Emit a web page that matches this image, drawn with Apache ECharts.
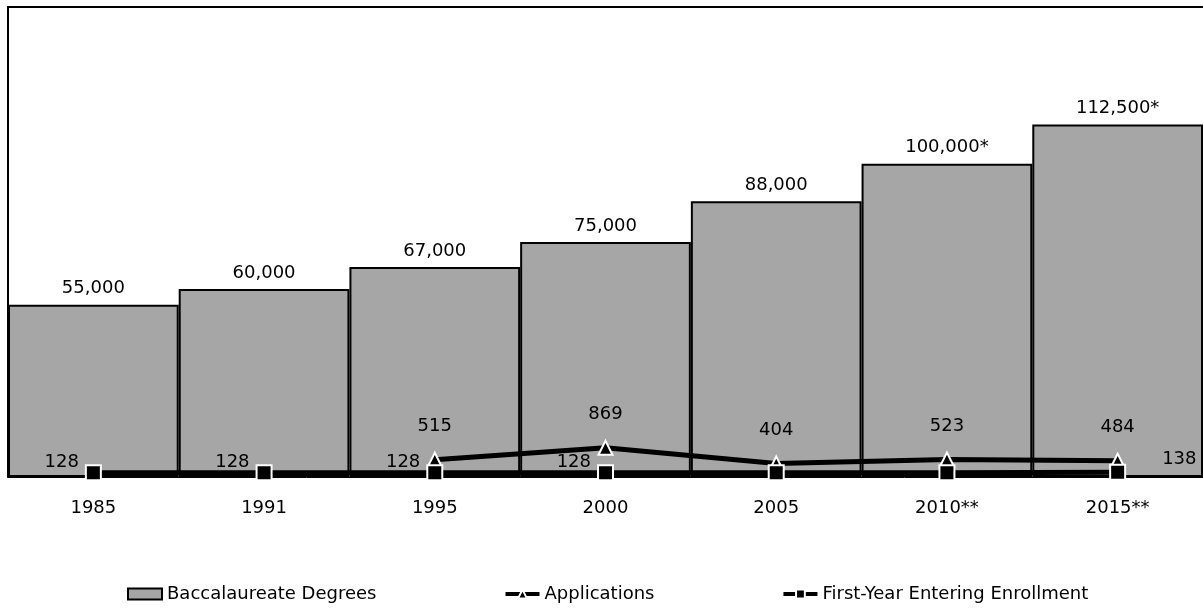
<!doctype html>
<html>
    <head>
        <meta charset="utf-8">
        <title>Degrees, Applications and Enrollment</title>
        <style>
            html, body { margin: 0; padding: 0; background: #fff; }
            #main { width: 1203px; height: 609px; }
        </style>
    </head>
    <body>
        <div id="main"></div>
        <script src="https://cdn.jsdelivr.net/npm/echarts@6/dist/echarts.min.js"></script>
        <script>
            var years = ['1985', '1991', '1995', '2000', '2005', '2010**', '2015**'];
            var degrees = [55000, 60000, 67000, 75000, 88000, 100000, 112500];
            var degreeLabels = ['55,000', '60,000', '67,000', '75,000', '88,000', '100,000*', '112,500*'];
            var applications = [null, null, 515, 869, 404, 523, 484];
            var enrollment = [128, 128, 128, 128, 128, 128, 138];
            // labels the original hides where they would collide with the line
            var enrollmentLabelShown = [true, true, true, true, false, false, true];

            var font = "'DejaVu Sans', sans-serif";
            var chart = echarts.init(document.getElementById('main'));

            chart.setOption({
                animation: false,
                textStyle: { fontFamily: font },
                grid: {
                    left: 8,
                    right: -4,
                    top: 7,
                    bottom: 132
                },
                legend: {
                    left: 122,
                    top: 580,
                    itemGap: 127,
                    itemWidth: 34,
                    itemHeight: 11,
                    textStyle: { fontFamily: font, fontSize: 18, color: '#000' },
                    data: [
                        { name: 'Baccalaureate Degrees', icon: 'rect' },
                        { name: 'Applications', lineStyle: { width: 4 } },
                        { name: 'First-Year Entering Enrollment', lineStyle: { width: 4 } }
                    ]
                },
                xAxis: [
                    {
                        type: 'category',
                        data: years,
                        position: 'bottom',
                        axisLine: { onZero: false, lineStyle: { color: '#000', width: 1 } },
                        axisTick: { length: 6, lineStyle: { color: '#000' } },
                        axisLabel: { color: '#000', fontSize: 18, margin: 22, fontFamily: font }
                    },
                    {
                        type: 'category',
                        data: years,
                        position: 'top',
                        axisLine: { show: true, onZero: false, lineStyle: { color: '#000', width: 2 } },
                        axisTick: { show: false },
                        axisLabel: { show: false }
                    }
                ],
                yAxis: [
                    {
                        type: 'value', min: 0, max: 150000,
                        axisLine: { show: true, onZero: false, lineStyle: { color: '#000', width: 2 } },
                        axisTick: { show: false },
                        axisLabel: { show: false },
                        splitLine: { show: false }
                    },
                    { type: 'value', min: 0, max: 14000, show: false, splitLine: { show: false } }
                ],
                series: [
                    {
                        name: 'Baccalaureate Degrees',
                        type: 'bar',
                        data: degrees,
                        barCategoryGap: 0,
                        itemStyle: { color: '#a6a6a6', borderColor: '#000', borderWidth: 2 },
                        label: {
                            show: true,
                            position: 'top',
                            distance: 7,
                            color: '#000',
                            fontSize: 18,
                            fontFamily: font,
                            formatter: function (p) { return degreeLabels[p.dataIndex]; }
                        }
                    },
                    {
                        name: 'Applications',
                        type: 'line',
                        yAxisIndex: 1,
                        data: applications,
                        symbol: 'triangle',
                        symbolSize: 14,
                        lineStyle: { color: '#000', width: 5 },
                        itemStyle: { color: '#000', borderColor: '#fff', borderWidth: 2 },
                        label: {
                            show: true,
                            position: 'top',
                            distance: 16,
                            color: '#000',
                            fontSize: 18,
                            fontFamily: font
                        },
                        z: 3
                    },
                    {
                        name: 'First-Year Entering Enrollment',
                        type: 'line',
                        yAxisIndex: 1,
                        data: enrollment.map(function (v, i) {
                            var last = i === enrollment.length - 1;
                            return {
                                value: v,
                                label: last
                                    ? { show: true, position: 'right', distance: 36, offset: [0, -13] }
                                    : { show: enrollmentLabelShown[i], position: 'left', distance: 6, offset: [0, -10] }
                            };
                        }),
                        symbol: 'rect',
                        symbolSize: 15,
                        lineStyle: { color: '#000', width: 5 },
                        itemStyle: { color: '#000', borderColor: '#fff', borderWidth: 2 },
                        label: {
                            show: true,
                            color: '#000',
                            fontSize: 18,
                            fontFamily: font
                        },
                        z: 4
                    }
                ]
            });

            window.addEventListener('resize', function () {
                chart.resize();
            });
        </script>
    </body>
</html>
